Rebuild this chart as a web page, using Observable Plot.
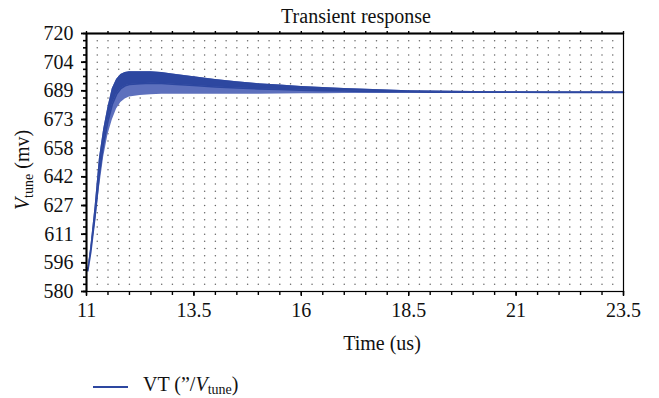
<!DOCTYPE html>
<html>
<head>
<meta charset="utf-8">
<script src="https://cdn.jsdelivr.net/npm/d3@7"></script>
<script src="https://cdn.jsdelivr.net/npm/@observablehq/plot@0.6"></script>
<style>
  html, body { margin: 0; padding: 0; background: #fff; }
  #chart { width: 659px; height: 398px; }
</style>
</head>
<body>
<div id="chart"></div>
<script>
// ---- data ----
const title = "Transient response";
const xLabel = "Time (us)";
const xTicks = [11, 13.5, 16, 18.5, 21, 23.5];
const yTickLabels = ["580", "596", "611", "627", "642", "658", "673", "689", "704", "720"];
const yMin = 580, yMax = 720;

// envelope of the oscillating VT signal (time in us, value in mV)
const time  = [11.0, 11.03, 11.1, 11.2, 11.3, 11.4, 11.5, 11.6, 11.7, 11.8, 11.9, 12.0, 12.25, 12.5, 12.75, 13.0, 13.5, 14.0, 14.5, 15.0, 15.5, 16.0, 16.5, 17.0, 17.5, 18.0, 18.5, 19.0, 19.5, 20.0, 21.0, 22.0, 23.5];
const upper = [593, 591.5, 604, 626, 652, 668, 680, 690, 695, 697.8, 698.8, 699.2, 699.3, 699.2, 698.8, 698.0, 696.5, 695.0, 693.8, 692.8, 692.0, 691.3, 690.7, 690.2, 689.7, 689.3, 689.0, 688.8, 688.6, 688.5, 688.4, 688.3, 688.3];
const lower = [593, 591.0, 599, 616, 636, 653, 665, 673, 679, 682.5, 684.5, 685.5, 686.3, 686.8, 687.0, 687.0, 687.0, 687.0, 687.0, 687.1, 687.2, 687.3, 687.3, 687.4, 687.5, 687.5, 687.6, 687.6, 687.7, 687.7, 687.8, 687.8, 687.8];
const legendLabel = "VT";

// ---- build table ----
const band = time.map((t, i) => ({t, u: upper[i], l: lower[i], m: lower[i] + 0.5 * (upper[i] - lower[i])}));
const yStep = (yMax - yMin) / (yTickLabels.length - 1);
const yTickVals = yTickLabels.map((_, i) => yMin + i * yStep);
const yMinor = d3.range(0, 37).map(k => yMin + k * yStep / 4);
const xMinor = d3.range(11, 23.5001, 0.5);
const gridX = d3.range(11.25, 23.3, 0.25);
const gridY = d3.range(1, 36).map(k => yMin + k * yStep / 4);
const gridPts = gridX.flatMap(x => gridY.map(y => ({x, y})));

const blue = "#2d47a0";
const font = "'Liberation Serif', 'DejaVu Serif', serif";
const fs = 20;

const plot = Plot.plot({
  width: 659,
  height: 398,
  marginLeft: 86,
  marginRight: 36,
  marginTop: 33,
  marginBottom: 107,
  style: {fontFamily: font, fontSize: fs + "px", color: "#111", background: "#fff"},
  x: {type: "linear", domain: [11, 23.5]},
  y: {type: "linear", domain: [yMin, yMax]},
  marks: [
    Plot.dot(gridPts, {x: "x", y: "y", r: 0.75, fill: "#666", stroke: null}),
    Plot.areaY(band, {x: "t", y1: "l", y2: "u", fill: "#5d70bd"}),
    Plot.areaY(band, {x: "t", y1: "m", y2: "u", fill: blue}),
    Plot.line(band, {x: "t", y: "m", stroke: blue, strokeWidth: 1.6}),
    Plot.axisX(xMinor, {tickSize: 4, tickFormat: () => "", stroke: "#000", strokeWidth: 1.4, label: null}),
    Plot.axisX(xMinor, {anchor: "top", tickSize: 3, tickFormat: () => "", stroke: "#000", strokeWidth: 1.4, label: null}),
    Plot.axisX(xTicks, {tickSize: 5, tickPadding: 6, tickFormat: d => String(d), fontSize: fs, label: null, stroke: "#000", strokeWidth: 1.4}),
    Plot.axisY(yMinor, {tickSize: 3, tickFormat: () => "", stroke: "#000", strokeWidth: 1.6, label: null}),
    Plot.axisY(yTickVals, {tickSize: 5, tickPadding: 8, tickFormat: (d, i) => yTickLabels[i], fontSize: fs, label: null, stroke: "#000", strokeWidth: 1.8}),
    Plot.frame({stroke: "#000", strokeWidth: 1.2}),
    Plot.ruleX([11], {stroke: "#000", strokeWidth: 2}),
    Plot.ruleY([yMax], {stroke: "#000", strokeWidth: 1.8})
  ]
});

document.getElementById("chart").append(plot);
const svg = d3.select(plot);

// Title
svg.append("text").attr("x", 356).attr("y", 23).attr("text-anchor", "middle")
  .attr("font-family", font).attr("font-size", fs).attr("fill", "#111").text(title);

// X label
svg.append("text").attr("x", 382).attr("y", 350).attr("text-anchor", "middle")
  .attr("font-family", font).attr("font-size", fs).attr("fill", "#111").text(xLabel);

// Y label (rotated): V_tune (mv)
const yl = svg.append("text").attr("transform", "translate(29,170) rotate(-90)")
  .attr("text-anchor", "middle").attr("font-family", font).attr("font-size", fs).attr("fill", "#111");
yl.append("tspan").attr("font-style", "italic").text("V");
yl.append("tspan").attr("font-size", 14).attr("dy", 4).text("tune");
yl.append("tspan").attr("dy", -4).text(" (mv)");

// Legend
svg.append("line").attr("x1", 93).attr("x2", 128).attr("y1", 387).attr("y2", 387)
  .attr("stroke", blue).attr("stroke-width", 2);
const lg = svg.append("text").attr("x", 143).attr("y", 391).attr("text-anchor", "start")
  .attr("font-family", font).attr("font-size", fs).attr("fill", "#111");
lg.append("tspan").text(legendLabel + " (\u201D/");
lg.append("tspan").attr("font-style", "italic").text("V");
lg.append("tspan").attr("font-size", 14).attr("dy", 3).text("tune");
lg.append("tspan").attr("dy", -3).text(")");
</script>
</body>
</html>
